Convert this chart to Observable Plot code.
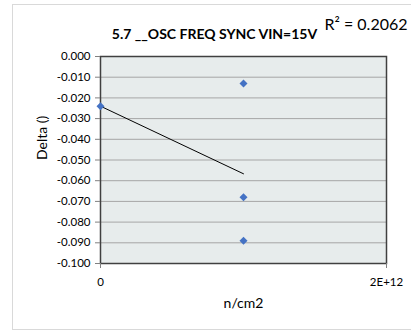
<!DOCTYPE html>
<html><head><meta charset="utf-8">
<script src="https://cdn.jsdelivr.net/npm/d3@7"></script>
<script src="https://cdn.jsdelivr.net/npm/@observablehq/plot@0.6"></script>
<style>
body{margin:0;background:#fff;}
#wrap{position:relative;width:411px;height:335px;overflow:hidden;}
#border{position:absolute;left:12px;top:4px;width:420px;height:326px;border:1px solid #D9D9D9;box-sizing:border-box;}
#chart{position:absolute;left:0;top:0;}
</style></head>
<body><div id="wrap"><div id="border"></div><div id="chart"></div></div>
<script>
const fluence = [0, 1e12, 1e12, 1e12];
const delta = [-0.024, -0.013, -0.068, -0.089];
const yTicks = [0, -0.01, -0.02, -0.03, -0.04, -0.05, -0.06, -0.07, -0.08, -0.09, -0.1];
const xTicks = [0, 2e12];
const title = "5.7 __OSC FREQ SYNC VIN=15V";
const xLabel = "n/cm2";
const yLabel = "Delta ()";

const data = fluence.map((x, i) => ({x, y: delta[i]}));
// R² of linear fit
const mx = d3.mean(fluence), my = d3.mean(delta);
const sxy = d3.sum(data, d => (d.x - mx) * (d.y - my));
const sxx = d3.sum(data, d => (d.x - mx) ** 2);
const b = sxy / sxx, a = my - b * mx;
const ssTot = d3.sum(data, d => (d.y - my) ** 2);
const ssRes = d3.sum(data, d => (d.y - (a + b * d.x)) ** 2);
const r2 = 1 - ssRes / ssTot;

const font = "Lato, 'Open Sans', sans-serif";
const chart = Plot.plot({
  width: 411, height: 335,
  marginLeft: 100, marginRight: 25, marginTop: 56, marginBottom: 72,
  style: {fontFamily: font, fontSize: "11px", color: "#000", background: "transparent", overflow: "visible"},
  x: {domain: [0, 2e12], label: null},
  y: {domain: [-0.1, 0], label: null},
  marks: [
    Plot.frame({fill: "#E7ECEC", stroke: null}),
    Plot.gridY(yTicks, {stroke: "#A6A6A6", strokeOpacity: 1, strokeWidth: 1}),
    Plot.frame({stroke: "#404040", strokeWidth: 1.5}),
    Plot.axisY({ticks: yTicks, tickFormat: d => d.toFixed(3), tickSize: 5, tickPadding: 5, stroke: "#808080", fontSize: 11.5}),
    Plot.axisX({ticks: xTicks, tickFormat: d => d === 0 ? "0" : "2E+12", tickSize: 5, tickPadding: 9, stroke: "#808080", fontSize: 11.5}),
    Plot.linearRegressionY(data, {x: "x", y: "y", stroke: "#000", strokeWidth: 1, ci: 0}),
    Plot.dot(data, {x: "x", y: "y", symbol: "square", rotate: 45, r: 3.2, fill: "#4472C4", stroke: null}),
    Plot.text([title], {frameAnchor: "top", lineAnchor: "middle", dy: -22, dx: -29, fontWeight: "bold", fontSize: 14, fill: "#000"}),
    Plot.text([`R² = ${r2.toFixed(4)}`], {frameAnchor: "top-right", lineAnchor: "middle", textAnchor: "start", dx: -62, dy: -32, fontSize: 16, fill: "#000"}),
    Plot.text([xLabel], {frameAnchor: "bottom", lineAnchor: "middle", dy: 40, fontSize: 14, fill: "#000"}),
    Plot.text([yLabel], {frameAnchor: "left", lineAnchor: "middle", rotate: -90, dx: -58, fontSize: 14, fill: "#000"})
  ]
});
document.getElementById("chart").appendChild(chart);
</script></body></html>
